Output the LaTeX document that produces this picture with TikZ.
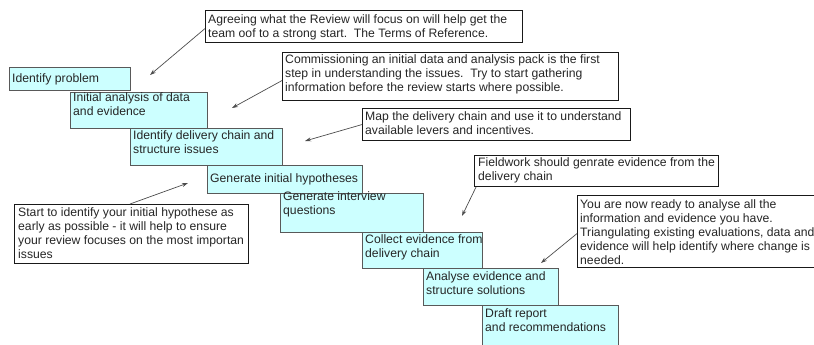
\documentclass[tikz,border=0pt]{standalone}
\usepackage{fontspec}
\setmainfont{Liberation Sans}
\usetikzlibrary{arrows.meta}
\definecolor{stepfill}{HTML}{CCFFFF}
\begin{document}
\begin{tikzpicture}[x=1pt,y=-1pt,
  stepbox/.style={draw=black!65, line width=0.8pt, fill=stepfill, inner sep=0pt, anchor=north west},
  callbox/.style={draw=black!90, line width=1.1pt, fill=white, inner sep=0pt, anchor=north west},
  txt/.style={anchor=north west, inner sep=0pt, align=left, font=\fontsize{12.2}{14}\selectfont, text=black!85},
  pointer/.style={-{Stealth[length=6pt,width=4pt]}, draw=black!70, line width=0.7pt}]
\useasboundingbox (0,0) rectangle (814,345);

% step boxes
\node[stepbox, minimum width=121pt, minimum height=23pt] (s1) at (9,67) {};
\node[txt] (t1) at (12,73.5) {Identify problem};
\node[stepbox, minimum width=137pt, minimum height=36pt] (s2) at (70,92) {};
\node[txt] (t2) at (73,92.5) {Initial analysis of data\\and evidence};
\node[stepbox, minimum width=152pt, minimum height=37pt] (s3) at (130,128) {};
\node[txt] (t3) at (133,130.5) {Identify delivery chain and\\structure issues};
\node[stepbox, minimum width=155pt, minimum height=28pt] (s4) at (207,165) {};
\node[txt] (t4) at (210,173.5) {Generate initial hypotheses};
\node[stepbox, minimum width=143pt, minimum height=39pt] (s5) at (280,193) {};
\node[txt] (t5) at (283,191.5) {Generate interview\\questions};
\node[stepbox, minimum width=120pt, minimum height=36pt] (s6) at (362,232) {};
\node[txt] (t6) at (365,234.5) {Collect evidence from\\delivery chain};
\node[stepbox, minimum width=135pt, minimum height=37pt] (s7) at (423,268) {};
\node[txt] (t7) at (426,271.5) {Analyse evidence and\\structure solutions};
\node[stepbox, minimum width=136pt, minimum height=45pt] (s8) at (482,305) {};
\node[txt] (t8) at (485,308.5) {Draft report\\and recommendations};

% callouts
\node[callbox, minimum width=317pt, minimum height=32pt] (cA) at (205,10) {};
\node[txt] (tA) at (208,14.5) {Agreeing what the Review will focus on will help get the\\team oof to a strong start.\ \ The Terms of Reference.};
\node[callbox, minimum width=336pt, minimum height=48pt] (cB) at (282,52) {};
\node[txt] (tB) at (285,54.5) {Commissioning an initial data and analysis pack is the first\\step in understanding the issues.\ \ Try to start gathering\\information before the review starts where possible.};
\node[callbox, minimum width=268pt, minimum height=32pt] (cC) at (362,108) {};
\node[txt] (tC) at (365,111.5) {Map the delivery chain and use it to understand\\available levers and incentives.};
\node[callbox, minimum width=244pt, minimum height=31pt] (cD) at (474,155) {};
\node[txt] (tD) at (478,157.5) {Fieldwork should genrate evidence from the\\delivery chain};
\node[callbox, minimum width=234pt, minimum height=59pt] (cE) at (14,204) {};
\node[txt] (tE) at (18,207.5) {Start to identify your initial hypothese as\\early as possible - it will help to ensure\\your review focuses on the most importan\\issues};
\node[callbox, minimum width=250pt, minimum height=72pt] (cF) at (577,195) {};
\node[txt] (tF) at (580,199.5) {You are now ready to analyse all the\\information and evidence you have.\\Triangulating existing evaluations, data and\\evidence will help identify where change is\\needed.};

% arrow ends
\coordinate (aA) at (150,75);
\coordinate (aB) at (232,108);
\coordinate (aC) at (305,141);
\coordinate (aD) at (462,216);
\coordinate (aE) at (188,183);
\coordinate (aF) at (541,263);

\draw[pointer] ([yshift=-2pt]cA.west) -- (aA);
\draw[pointer] ([yshift=-4pt]cB.west) -- (aB);
\draw[pointer] (cC.west) -- (aC);
\draw[pointer] ([xshift=2pt]cD.south west) -- (aD);
\draw[pointer] ([xshift=116pt]cE.north west) -- (aE);
\draw[pointer] ([yshift=-2pt]cF.west) -- (aF);
\end{tikzpicture}
\end{document}
